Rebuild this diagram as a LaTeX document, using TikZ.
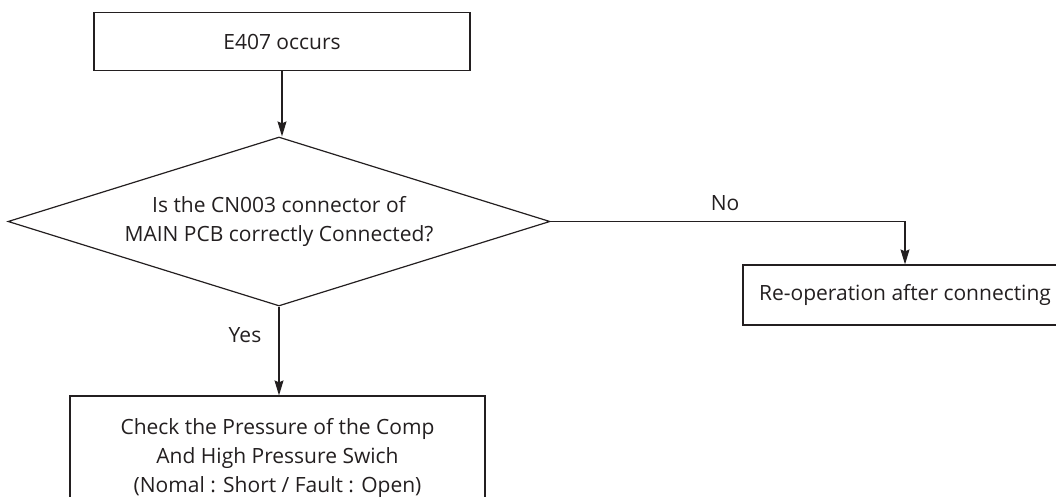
\documentclass[tikz,border=0pt]{standalone}
\usepackage{fontspec}
\setmainfont{Open Sans}
\usetikzlibrary{shapes.geometric,arrows.meta}
\definecolor{ink}{HTML}{231F20}
\begin{document}
\begin{tikzpicture}[x=1pt,y=-1pt,
  font=\fontsize{21}{29}\selectfont,
  every node/.style={text=ink},
  procbox/.style={draw=ink, line width=1.2pt, rectangle, inner sep=0pt, align=center},
  decision/.style={draw=ink, line width=1.2pt, diamond, inner sep=0pt, align=center,
    aspect=3.2, minimum width=542pt, minimum height=169pt},
  flow/.style={draw=ink, line width=1.2pt, -{Stealth[width=9pt,length=15pt,inset=2pt]}},
  lbl/.style={inner sep=0pt}
]
\clip (0,0) rectangle (1056,497);
\node[procbox, minimum width=376pt, minimum height=58pt] (start) at (282,41.5) {E407 occurs};
\node[decision] (dec) at (279,221.5) {Is the CN003 connector of\\MAIN PCB correctly Connected?};
\node[procbox, minimum width=324pt, minimum height=60pt] (reop) at (905,295) {Re-operation after connecting};
\node[procbox, minimum width=415pt, minimum height=124pt] (check) at (277.5,458) {Check the Pressure of the Comp\\And High Pressure Swich\\(Nomal : Short / Fault : Open)};
\node[lbl] (no) at (725,203) {No};
\node[lbl] (yes) at (245,335) {Yes};
\draw[flow] (start.south) -- (start.south |- dec.north);
\draw[flow] (dec.east) -| (reop.north);
\draw[flow] (dec.south) -- (dec.south |- check.north);
\end{tikzpicture}
\end{document}
